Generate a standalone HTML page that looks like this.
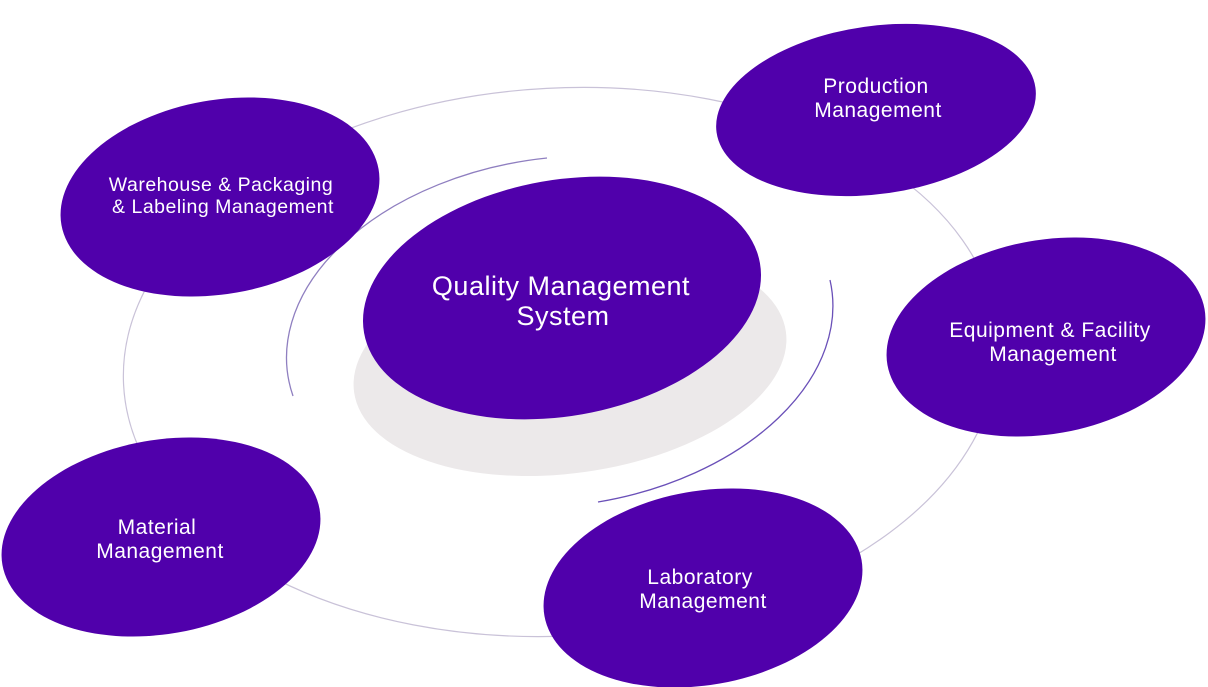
<!DOCTYPE html>
<html><head><meta charset="utf-8"><style>
html,body{margin:0;padding:0;background:#fff;}
svg{display:block}
text{font-family:"Liberation Sans","DejaVu Sans",sans-serif;fill:#fff;text-anchor:middle;letter-spacing:0.5px}
</style></head><body>
<svg width="1208" height="687" viewBox="0 0 1208 687">
<ellipse cx="561" cy="362" rx="438" ry="274" transform="rotate(-3 561 362)" fill="none" stroke="#c9c2d8" stroke-width="1.2"/>
<path d="M547 158 A272 178 -8 0 0 293 396" fill="none" stroke="#8f7fc0" stroke-width="1.3"/>
<path d="M830 280 A272 178 -8 0 1 598 502" fill="none" stroke="#6a50b8" stroke-width="1.3"/>
<ellipse cx="570" cy="362" rx="218" ry="111" transform="rotate(-8 570 362)" fill="#ece9ea"/>
<g fill="#5000ab">
<ellipse cx="562" cy="298" rx="201" ry="118" transform="rotate(-10 562 298)"/>
<ellipse cx="876" cy="110" rx="161" ry="84" transform="rotate(-8 876 110)"/>
<ellipse cx="220" cy="197" rx="161" ry="97" transform="rotate(-10 220 197)"/>
<ellipse cx="1046" cy="337" rx="161" ry="97" transform="rotate(-10 1046 337)"/>
<ellipse cx="161" cy="537" rx="161" ry="97" transform="rotate(-10 161 537)"/>
<ellipse cx="703" cy="588" rx="161" ry="97" transform="rotate(-10 703 588)"/>
</g>
<text x="561" y="295" font-size="27">Quality Management</text>
<text x="563" y="325" font-size="27">System</text>
<text x="876" y="93" font-size="21">Production</text>
<text x="878" y="117" font-size="21">Management</text>
<text x="221" y="191" font-size="19.5">Warehouse &amp; Packaging</text>
<text x="223" y="213" font-size="19.5">&amp; Labeling Management</text>
<text x="1050" y="337" font-size="21">Equipment &amp; Facility</text>
<text x="1053" y="361" font-size="21">Management</text>
<text x="157" y="534" font-size="21">Material</text>
<text x="160" y="558" font-size="21">Management</text>
<text x="700" y="584" font-size="21">Laboratory</text>
<text x="703" y="608" font-size="21">Management</text>
</svg>
</body></html>
